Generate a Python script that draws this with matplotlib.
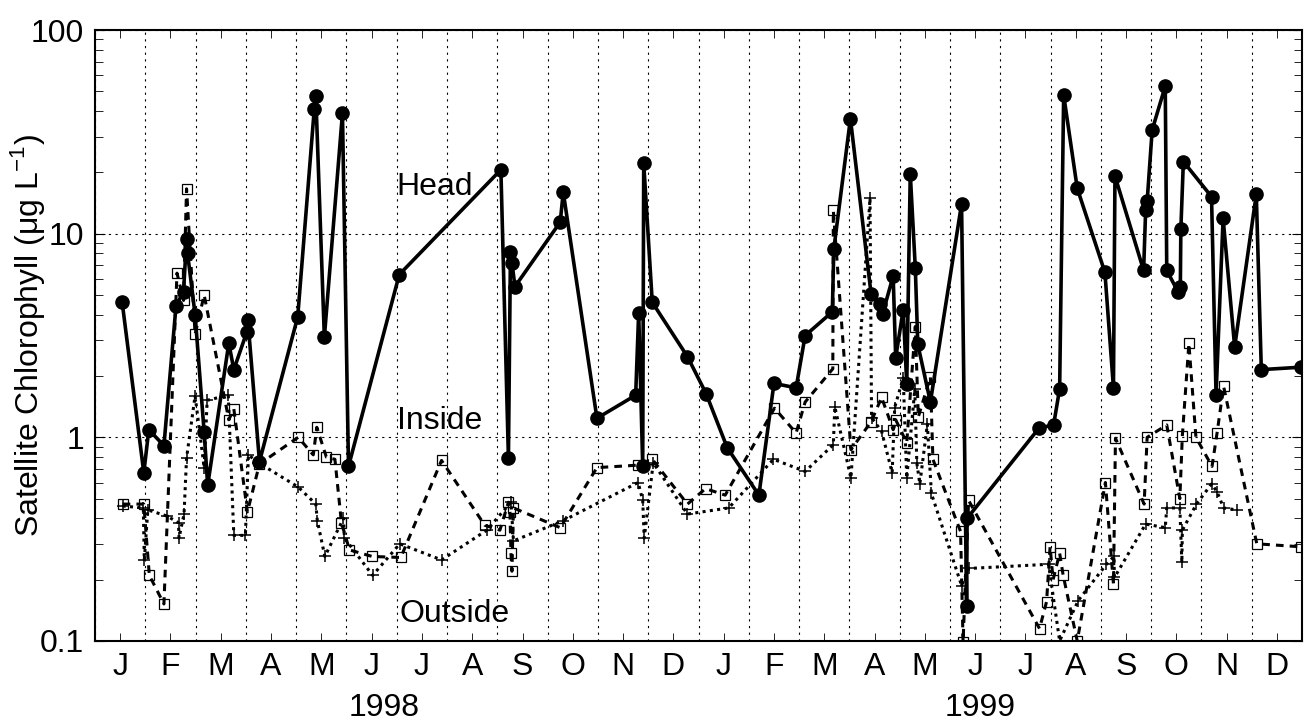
import matplotlib
matplotlib.use('Agg')
import matplotlib.pyplot as plt
from matplotlib.ticker import LogLocator, NullFormatter, FixedLocator
import numpy as np

plt.rcParams['font.family'] = ['Liberation Sans', 'DejaVu Sans']

# x = months since 1 Jan 1998 (decimal), y = chlorophyll (ug/L)
head_x = [0.54, 0.97, 1.07, 1.37, 1.61, 1.76, 1.82, 1.84, 1.99, 2.17, 2.24, 2.66, 2.76, 3.02, 3.04,
          3.27, 4.03, 4.36, 4.39, 4.56, 4.92, 5.04, 6.05, 8.07, 8.22, 8.26, 8.29, 8.35, 9.25, 9.31,
          9.98, 10.75, 10.81, 10.89, 10.91, 11.08, 11.78, 12.15, 12.57, 13.20, 13.50, 13.94, 14.12,
          14.66, 14.69, 15.02, 15.43, 15.61, 15.66, 15.87, 15.92, 16.07, 16.14, 16.21, 16.31, 16.36,
          16.61, 17.23, 17.33, 17.34, 18.77, 19.06, 19.18, 19.26, 19.53, 20.08, 20.25, 20.28, 20.85,
          20.89, 20.92, 21.02, 21.28, 21.31, 21.54, 21.58, 21.59, 21.64, 22.20, 22.29, 22.43, 22.66,
          23.09, 23.19, 23.98]
head_y = [4.6, 0.67, 1.09, 0.91, 4.4, 5.2, 9.4, 8.0, 4.0, 1.06, 0.58, 2.9, 2.15, 3.3, 3.75,
          0.76, 3.9, 41, 47.6, 3.1, 39, 0.72, 6.3, 20.6, 0.79, 8.1, 7.2, 5.5, 11.4, 16.0,
          1.24, 1.61, 4.1, 0.72, 22.2, 4.6, 2.49, 1.64, 0.89, 0.52, 1.84, 1.75, 3.16,
          4.13, 8.4, 36.7, 5.08, 4.5, 4.04, 6.2, 2.46, 4.24, 1.82, 19.7, 6.8, 2.86,
          1.49, 14.0, 0.149, 0.40, 1.11, 1.15, 1.73, 48, 16.7, 6.46, 1.75, 19.2, 6.6,
          13.0, 14.4, 32.3, 53, 6.6, 5.15, 5.5, 10.5, 22.6, 15.2, 1.61, 11.9, 2.78,
          15.6, 2.15, 2.21]

inside_x = [0.55, 0.97, 1.08, 1.37, 1.63, 1.76, 1.82, 1.99, 2.17, 2.66, 2.76, 3.03, 3.27, 4.04,
            4.34, 4.41, 4.60, 4.77, 4.90, 5.06, 5.51, 6.08, 6.89, 7.75, 8.05, 8.22, 8.25, 8.27,
            8.29, 8.32, 9.25, 9.98, 10.80, 11.08, 11.78, 12.14, 12.53, 13.51, 13.94, 14.12,
            14.67, 14.68, 15.03, 15.43, 15.64, 15.87, 15.92, 16.14, 16.31, 16.37, 16.61, 16.66,
            17.21, 17.26, 17.37, 18.78, 18.92, 18.99, 19.05, 19.18, 19.25, 19.53, 20.09, 20.25,
            20.29, 20.86, 20.92, 21.31, 21.57, 21.62, 21.75, 21.89, 22.21, 22.31, 22.44, 23.10,
            23.98]
inside_y = [0.47, 0.47, 0.21, 0.152, 6.4, 4.7, 16.6, 3.2, 5.0, 1.22, 1.38, 0.43, 0.74, 1.0,
            0.82, 1.12, 0.80, 0.78, 0.38, 0.28, 0.26, 0.257, 0.77, 0.37, 0.35, 0.48, 0.43, 0.27,
            0.22, 0.45, 0.36, 0.71, 0.73, 0.78, 0.47, 0.56, 0.52, 1.39, 1.05, 1.49,
            2.17, 13.0, 0.87, 1.19, 1.57, 1.09, 1.22, 0.94, 3.5, 1.26, 1.98, 0.78,
            0.345, 0.099, 0.49, 0.115, 0.156, 0.29, 0.20, 0.27, 0.21, 0.10, 0.60, 0.19,
            0.99, 0.47, 1.0, 1.15, 0.50, 1.02, 2.89, 1.0, 0.72, 1.05, 1.78, 0.30,
            0.29]

outside_x = [0.55, 0.96, 0.98, 1.05, 1.44, 1.66, 1.67, 1.77, 1.82, 1.99, 2.17, 2.23, 2.65, 2.76,
             2.99, 3.05, 3.25, 4.04, 4.39, 4.42, 4.57, 4.94, 4.96, 5.52, 6.06, 6.89, 7.79, 8.27,
             8.32, 9.31, 10.80, 10.89, 10.92, 11.10, 11.78, 12.60, 13.49, 14.12, 14.68, 14.71,
             15.03, 15.41, 15.44, 15.64, 15.85, 15.90, 16.07, 16.14, 16.30, 16.34, 16.40, 16.55,
             16.63, 17.23, 17.37, 18.96, 19.18, 19.55, 20.11, 20.26, 20.27, 20.89, 21.28, 21.31,
             21.57, 21.61, 21.62, 21.90, 22.20, 22.31, 22.44, 22.70]
outside_y = [0.46, 0.45, 0.25, 0.44, 0.41, 0.38, 0.32, 0.42, 0.79, 1.6, 0.71, 1.52, 1.61, 0.33,
             0.33, 0.82, 0.75, 0.57, 0.47, 0.39, 0.26, 0.40, 0.32, 0.21, 0.30, 0.25, 0.35, 0.48,
             0.31, 0.39, 0.60, 0.49, 0.32, 0.75, 0.42, 0.45, 0.78, 0.68, 0.92, 1.41,
             0.63, 14.9, 1.25, 1.07, 0.67, 1.4, 1.96, 0.63, 1.72, 0.75, 0.59, 1.16,
             0.53, 0.187, 0.227, 0.238, 0.10, 0.158, 0.238, 0.26, 0.205, 0.375, 0.36, 0.45,
             0.45, 0.243, 0.35, 0.47, 0.59, 0.54, 0.45, 0.44]

month_labels = ['J', 'F', 'M', 'A', 'M', 'J', 'J', 'A', 'S', 'O', 'N', 'D'] * 2
years = ['1998', '1999']

fig = plt.figure(figsize=(13.16, 7.25), dpi=100)
ax = fig.add_axes([0.0722, 0.1159, 0.9172, 0.8427])

ax.plot(inside_x, inside_y, color='black', lw=2.2, linestyle=(0, (2.5, 2)),
        marker='s', ms=7.5, mfc='none', mec='black', mew=0.9)
ax.plot(outside_x, outside_y, color='black', lw=2.2, linestyle=(0, (1, 1.4)),
        marker='+', ms=9, mec='black', mew=1.1)
ax.plot(head_x, head_y, color='black', lw=2.6, marker='o', ms=9.5, mfc='black', mec='black')

ax.set_yscale('log')
ax.set_ylim(0.1, 100)
ax.set_xlim(0, 24)

ax.xaxis.set_major_locator(FixedLocator(np.arange(0, 25)))
ax.xaxis.set_minor_locator(FixedLocator(np.arange(0.5, 24)))
ax.set_xticklabels([''] * 25)
ax.set_xticklabels(month_labels, minor=True)
ax.set_yticks([0.1, 1, 10, 100])
ax.set_yticklabels(['0.1', '1', '10', '100'])
ax.yaxis.set_minor_locator(LogLocator(base=10, subs=np.arange(2, 10)))
ax.yaxis.set_minor_formatter(NullFormatter())

ax.tick_params(which='both', direction='in', top=True, right=True, labelsize=23)
ax.tick_params(which='major', length=0)
ax.tick_params(axis='y', which='major', length=7, pad=8)
ax.tick_params(axis='y', which='minor', length=6)
ax.tick_params(axis='x', which='minor', length=6, pad=8)

ax.grid(True, which='major', color='black', lw=0.8, linestyle=(0, (2, 4)))
for s in ax.spines.values():
    s.set_linewidth(1.5)

ax.set_ylabel(r'Satellite Chlorophyll ($\mathregular{\mu}$g L$^{\mathregular{-1}}$)', fontsize=23)
ax.yaxis.set_label_coords(-0.040, 0.5)

ax.text(6.0, 15.5, 'Head', fontsize=23, ha='left', va='baseline')
ax.text(6.0, 1.094, 'Inside', fontsize=23, ha='left', va='baseline')
ax.text(6.05, 0.124, 'Outside', fontsize=23, ha='left', va='baseline')

for xpos, yr in zip([5.75, 17.6], years):
    ax.text(xpos, -0.11, yr, fontsize=23, ha='center', va='center',
            transform=ax.get_xaxis_transform())

fig.savefig('out.png', dpi=100)
